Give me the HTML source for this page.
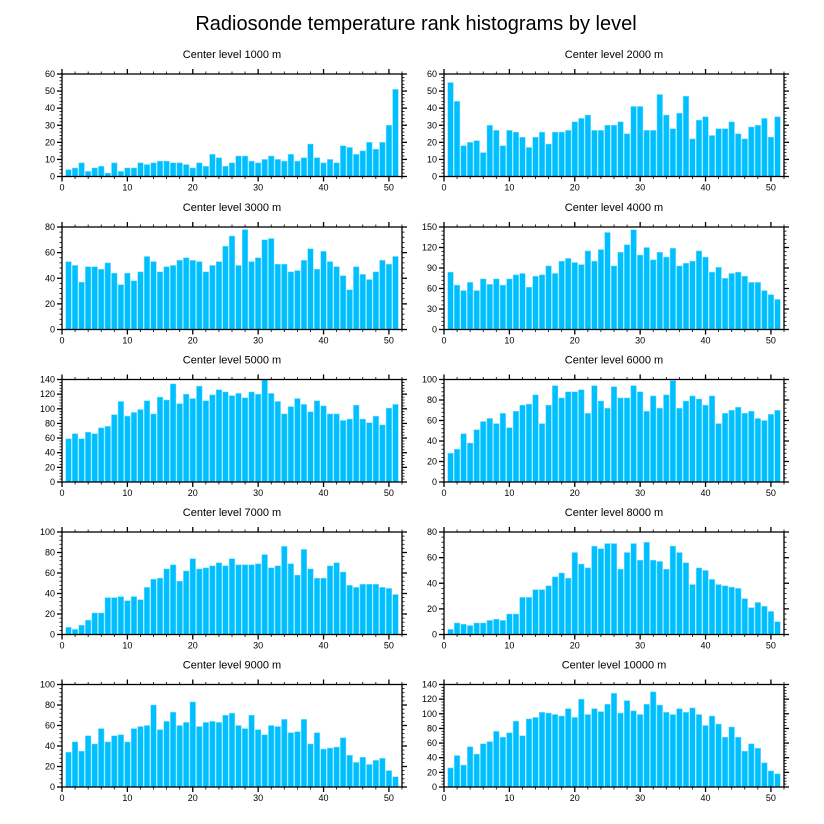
<!DOCTYPE html>
<html><head><meta charset="utf-8"><style>
html,body{margin:0;padding:0;background:#fff;}
svg{display:block;font-family:"Liberation Sans",sans-serif;}
</style></head><body>
<svg id="chart" width="824" height="824" viewBox="0 0 824 824" xmlns="http://www.w3.org/2000/svg">
<rect x="0" y="0" width="824" height="824" fill="#fff"/>
<text x="416" y="30" font-size="20" text-anchor="middle" fill="#000">Radiosonde temperature rank histograms by level</text>
</svg>
<script>
const levels = [1000,2000,3000,4000,5000,6000,7000,8000,9000,10000];
const yMax = [60,60,80,150,140,100,100,80,100,140];
const yStep = [10,10,20,30,20,20,20,20,20,20];
const xTicks = [0,10,20,30,40,50];
const v1000 = [4,5,8,3,5,6,2,8,3,5,5,8,7,8,9,9,8,8,7,5,8,6,13,11,6,8,12,12,9,8,10,12,10,9,13,9,11,19,11,8,10,8,18,17,13,15,20,16,20,30,51];
const v2000 = [55,44,18,20,21,14,30,27,18,27,26,23,17,23,26,19,26,26,27,32,34,36,27,27,30,30,32,25,41,41,27,27,48,36,28,37,47,22,33,35,24,28,28,32,25,22,29,30,34,23,35];
const v3000 = [53,50,37,49,49,47,52,44,35,44,38,45,57,53,45,49,50,54,56,54,53,45,50,53,65,73,50,78,53,56,70,71,51,51,45,46,54,63,47,61,53,49,42,31,49,43,39,45,54,51,57];
const v4000 = [84,65,57,69,57,74,66,74,65,74,80,82,62,78,80,93,82,100,104,98,95,115,100,117,142,93,113,124,146,109,120,102,113,106,119,93,97,100,115,106,84,91,75,82,84,78,69,69,57,51,44];
const v5000 = [59,66,59,68,66,74,76,92,110,90,95,99,111,93,116,112,134,107,120,114,131,111,119,126,123,118,121,115,123,120,140,121,110,93,103,114,106,96,111,104,93,93,84,86,105,86,81,90,78,101,106];
const v6000 = [28,32,47,38,51,59,62,57,67,53,69,75,76,85,57,75,94,82,88,88,90,67,94,79,72,93,82,82,94,88,69,84,72,85,99,72,79,84,81,75,84,57,67,70,73,67,69,62,60,66,70];
const v7000 = [7,5,9,14,21,21,36,36,37,33,37,34,46,54,55,64,68,52,62,74,64,65,67,70,67,74,68,68,68,69,78,65,67,86,69,58,83,64,55,55,67,70,61,48,46,49,49,49,46,45,39];
const v8000 = [4,9,8,7,9,9,11,12,11,16,16,29,29,35,35,38,45,48,44,64,55,52,69,67,71,71,51,64,71,58,72,58,57,51,69,64,56,39,52,50,43,39,38,37,36,28,21,25,22,18,10];
const v9000 = [34,44,35,50,42,57,44,50,51,44,57,59,60,80,56,64,73,60,63,83,59,63,64,63,70,72,60,57,70,56,51,60,59,66,53,54,66,42,53,37,38,39,48,31,24,29,22,26,28,16,10];
const v10000 = [26,43,30,55,45,59,62,76,68,74,90,70,93,95,102,101,99,97,107,95,120,99,107,103,113,128,101,118,104,99,113,130,112,102,99,107,102,108,99,84,97,86,68,82,68,49,59,53,33,22,18];
const series = [v1000,v2000,v3000,v4000,v5000,v6000,v7000,v8000,v9000,v10000];

const NS = "http://www.w3.org/2000/svg";
const svg = document.getElementById('chart');
function mk(tag, attrs, parent){
  const e = document.createElementNS(NS, tag);
  for (const k in attrs) e.setAttribute(k, attrs[k]);
  (parent||svg).appendChild(e);
  return e;
}
const colX = [62, 444];
const rowY = [74, 227, 379.5, 532, 684.5];
const PW = 340, PH = 102.5, XMAX = 52;

series.forEach((vals, i) => {
  const px = colX[i % 2], py = rowY[Math.floor(i / 2)];
  const g = mk('g', {});
  
  
  const xs = v => px + v / XMAX * PW;
  const ys = v => py + PH - v / yMax[i] * PH;
  const t = mk('text', {x: px + PW / 2, y: py - 16, 'font-size': 11, 'text-anchor': 'middle', fill: '#000'}, g);
  
  
  t.textContent = 'Center level ' + levels[i] + ' m';
  vals.forEach((v, k) => {
    const r = mk('rect', {x: xs(k + 1 - 0.43), y: ys(v), width: 0.86 / XMAX * PW, height: ys(0) - ys(v), fill: '#00bfff', stroke: '#7fdfff', 'stroke-width': 0.5}, g);
    
    
  });
  const f = mk('rect', {x: px, y: py, width: PW, height: PH, fill: 'none', stroke: '#000', 'stroke-width': 1.3}, g);
  
  
  for (let m = 0; m <= XMAX; m += 2) {
    const major = m % 10 === 0, L = major ? 5 : 2.5;
    mk('line', {x1: xs(m), x2: xs(m), y1: py + PH, y2: py + PH + L, stroke: '#000', 'stroke-width': major ? 1.3 : 0.8}, g);
    mk('line', {x1: xs(m), x2: xs(m), y1: py, y2: py - L, stroke: '#000', 'stroke-width': major ? 1.3 : 0.8}, g);
  }
  xTicks.forEach(tv => {
    const l = mk('text', {x: xs(tv), y: py + PH + 14, 'font-size': 9, 'text-anchor': 'middle', fill: '#000'}, g);
    
    
    l.textContent = tv;
  });
  const sub = yStep[i] / 5;
  for (let m = 0; m <= yMax[i] + 1e-9; m += sub) {
    const major = Math.abs(m / yStep[i] - Math.round(m / yStep[i])) < 1e-6, L = major ? 5 : 2.5;
    mk('line', {x1: px, x2: px - L, y1: ys(m), y2: ys(m), stroke: '#000', 'stroke-width': major ? 1.3 : 0.8}, g);
    mk('line', {x1: px + PW, x2: px + PW + L, y1: ys(m), y2: ys(m), stroke: '#000', 'stroke-width': major ? 1.3 : 0.8}, g);
    if (major) {
      const l = mk('text', {x: px - 7, y: ys(m) + 3, 'font-size': 9, 'text-anchor': 'end', fill: '#000'}, g);
      
      
      l.textContent = Math.round(m);
    }
  }
});
</script>
</body></html>
